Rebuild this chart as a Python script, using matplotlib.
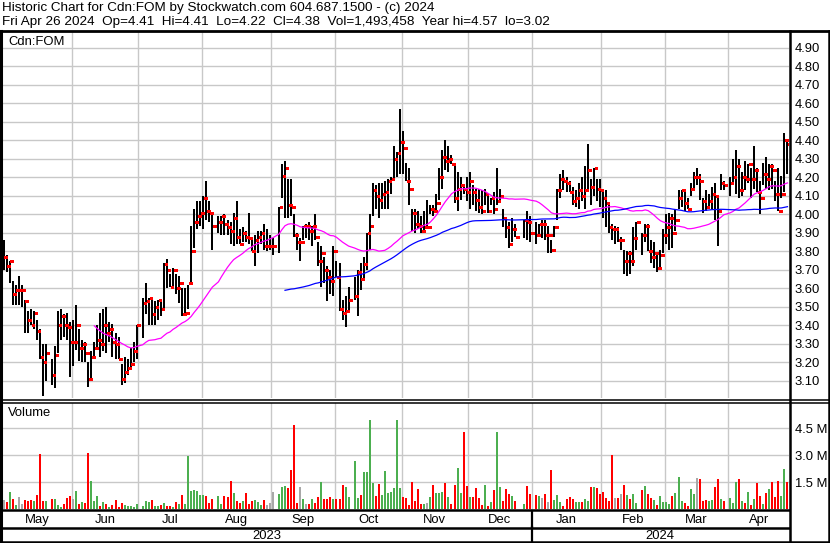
import numpy as np
import pandas as pd
import matplotlib
matplotlib.use("Agg")
import matplotlib.pyplot as plt
from matplotlib.lines import Line2D

plt.rcParams['font.family'] = ['Liberation Sans', 'DejaVu Sans']

# ---------------- data ----------------
start_date, end_date = '2023-05-01', '2024-04-26'
holidays = ['2023-05-22', '2023-07-03', '2023-08-07', '2023-09-04', '2023-10-09',
            '2023-12-25', '2023-12-26', '2024-01-01', '2024-02-19', '2024-03-29']

high = [
    3.86,3.78,3.75,3.64,3.62,3.67,3.62,3.54,3.48,3.49,3.48,3.43,3.38,3.30,3.30,3.22,3.29,3.48,3.49,3.46,3.47,3.42,
    3.43,3.51,3.38,3.32,3.31,3.20,3.26,3.31,3.40,3.47,3.49,3.50,3.42,3.41,3.36,3.34,3.19,3.23,3.22,3.28,3.31,3.40,
    3.55,3.63,3.55,3.55,3.53,3.54,3.54,3.74,3.76,3.68,3.71,3.68,3.67,3.60,3.60,3.62,3.94,4.03,4.07,4.07,
    4.10,4.18,4.07,4.01,3.99,3.99,4.00,3.97,3.96,4.01,4.07,3.92,3.93,3.91,4.01,3.88,3.89,3.91,3.91,3.95,3.92,3.89,
    3.87,4.04,4.27,4.29,4.19,4.19,4.00,3.90,3.87,3.94,3.95,3.96,3.94,4.00,3.85,3.83,3.77,3.72,3.70,3.83,
    3.75,3.74,3.54,3.56,3.61,3.66,3.70,3.74,3.77,3.90,4.00,4.17,4.16,4.17,4.17,4.18,4.19,4.20,4.37,4.34,4.57,
    4.45,4.28,4.25,4.03,4.03,4.02,3.99,4.02,4.08,4.05,4.05,4.11,4.25,4.35,4.40,4.37,4.32,4.26,4.23,4.20,4.15,4.20,
    4.23,4.16,4.14,4.14,4.13,4.14,4.10,4.09,4.12,4.25,4.14,4.03,3.98,3.96,3.98,3.95,3.97,4.02,3.99,
    3.96,3.95,3.97,3.97,3.94,3.86,3.94,4.14,4.22,4.24,4.20,4.18,4.15,4.13,4.17,4.20,4.26,4.38,4.19,4.25,4.19,4.19,
    4.13,4.13,4.05,3.95,3.94,3.93,3.88,3.81,3.80,3.80,3.93,3.96,3.90,3.95,3.95,3.86,3.85,3.79,3.81,3.92,
    4.00,4.01,4.00,4.03,4.13,4.13,4.13,4.09,4.17,4.23,4.25,4.22,4.09,4.13,4.11,4.15,4.17,4.10,4.22,4.18,
    4.20,4.30,4.35,4.30,4.23,4.29,4.27,4.25,4.37,4.25,4.18,4.28,4.31,4.27,4.27,4.18,4.25,4.21,4.44,4.41,
]
low = [
    3.70,3.69,3.63,3.51,3.51,3.51,3.50,3.36,3.36,3.40,3.38,3.32,3.22,3.02,3.10,3.08,3.06,3.25,3.32,3.34,3.32,3.12,
    3.18,3.27,3.21,3.20,3.20,3.07,3.11,3.22,3.27,3.23,3.26,3.25,3.31,3.23,3.22,3.22,3.08,3.09,3.13,3.17,3.20,3.22,
    3.33,3.46,3.40,3.40,3.40,3.43,3.45,3.49,3.60,3.61,3.60,3.57,3.52,3.45,3.45,3.49,3.62,3.82,3.92,3.94,
    3.92,3.97,3.96,3.81,3.90,3.89,3.89,3.89,3.84,3.83,3.84,3.84,3.85,3.85,3.84,3.80,3.72,3.79,3.84,3.81,3.80,3.81,
    3.78,3.79,4.09,3.98,3.98,3.99,3.88,3.81,3.75,3.86,3.87,3.86,3.83,3.86,3.72,3.61,3.63,3.53,3.57,3.56,
    3.66,3.48,3.43,3.39,3.47,3.54,3.45,3.59,3.65,3.70,3.81,3.99,4.03,3.98,4.03,4.03,4.03,4.11,4.18,4.20,4.22,
    4.22,4.18,4.05,3.91,3.90,3.92,3.90,3.91,3.92,4.00,3.99,4.01,4.08,4.14,4.24,4.23,4.27,4.06,4.02,4.08,4.11,4.07,
    4.03,4.05,4.02,4.01,4.00,4.05,4.01,4.05,4.00,4.05,4.07,3.93,3.87,3.82,3.85,3.88,3.87,3.86,3.85,
    3.84,3.88,3.87,3.86,3.79,3.79,3.88,3.97,4.09,4.13,4.12,4.12,4.05,4.04,4.03,4.07,4.03,4.13,4.05,4.10,4.07,4.04,
    3.98,3.93,3.90,3.86,3.84,3.85,3.81,3.68,3.67,3.68,3.72,3.81,3.78,3.85,3.80,3.74,3.71,3.69,3.70,3.79,
    3.84,3.81,3.82,3.91,4.03,4.04,4.02,4.03,4.10,4.13,4.16,4.08,4.01,4.02,4.03,4.03,3.97,3.83,4.13,4.13,
    4.10,4.17,4.11,4.09,4.10,4.13,4.17,4.09,4.14,4.12,4.00,4.16,4.14,4.13,4.14,4.07,4.02,4.09,4.12,4.22,
]
close = [
    3.77,3.72,3.75,3.57,3.59,3.59,3.59,3.53,3.43,3.40,3.47,3.37,3.23,3.20,3.25,3.13,3.24,3.40,3.45,3.40,3.39,3.31,
    3.31,3.40,3.28,3.30,3.25,3.11,3.23,3.28,3.32,3.30,3.40,3.36,3.38,3.31,3.30,3.22,3.11,3.15,3.17,3.19,3.26,3.40,
    3.52,3.53,3.55,3.46,3.50,3.54,3.49,3.73,3.70,3.61,3.70,3.60,3.63,3.46,3.47,3.63,3.80,3.96,3.99,4.01,
    4.09,4.02,4.01,3.94,3.96,3.99,3.95,3.93,3.91,3.98,3.88,3.84,3.90,3.88,3.87,3.80,3.86,3.88,3.90,3.83,3.83,3.83,
    3.83,4.04,4.21,4.25,4.05,4.04,3.89,3.85,3.85,3.94,3.94,3.91,3.94,3.88,3.75,3.79,3.70,3.66,3.64,3.80,
    3.66,3.49,3.47,3.48,3.54,3.56,3.69,3.65,3.73,3.90,3.94,4.13,4.10,4.08,4.11,4.12,4.18,4.19,4.30,4.33,4.39,
    4.36,4.18,4.14,4.01,3.95,3.94,3.91,3.93,3.93,4.03,4.02,4.06,4.20,4.31,4.29,4.30,4.27,4.09,4.14,4.16,4.14,4.12,
    4.18,4.12,4.08,4.04,4.02,4.11,4.02,4.09,4.03,4.07,4.10,3.98,3.93,3.84,3.92,3.88,3.97,3.96,3.90,
    3.89,3.95,3.95,3.89,3.89,3.81,3.93,4.13,4.19,4.18,4.17,4.12,4.07,4.09,4.13,4.10,4.13,4.24,4.15,4.25,4.14,4.13,
    4.09,4.06,3.93,3.92,3.92,3.86,3.86,3.75,3.79,3.75,3.87,3.96,3.89,3.94,3.80,3.77,3.79,3.71,3.78,3.89,
    3.93,3.98,3.90,3.97,4.09,4.13,4.06,4.03,4.14,4.20,4.20,4.18,4.07,4.04,4.07,4.11,4.10,4.02,4.17,4.16,
    4.17,4.20,4.26,4.13,4.20,4.19,4.27,4.19,4.24,4.12,4.09,4.22,4.19,4.26,4.24,4.11,4.02,4.11,4.40,4.38,
]
volume_m = [
    0.50,0.37,0.97,0.56,0.22,0.69,0.28,0.50,0.45,0.50,0.45,0.78,3.07,0.45,0.45,0.56,0.56,0.22,0.13,0.28,0.63,0.72,
    0.56,1.00,0.30,0.41,0.32,3.12,1.56,0.45,0.72,0.17,0.37,0.28,0.09,0.22,0.50,0.13,0.32,0.22,0.17,0.17,0.13,0.28,
    0.17,0.45,0.37,0.50,0.17,0.17,0.22,0.32,0.17,0.17,0.13,0.37,0.28,0.78,0.28,2.92,1.00,1.06,1.00,0.78,
    0.78,0.72,0.32,0.56,0.72,0.28,0.72,0.69,1.58,0.87,0.45,0.32,0.45,0.91,0.28,0.45,0.50,0.41,0.22,0.50,0.22,0.32,
    0.97,0.82,1.25,1.28,1.15,2.17,4.68,0.32,1.25,0.56,0.28,0.28,0.56,0.32,0.69,1.52,0.56,0.56,0.67,0.56,
    0.56,0.56,1.34,1.25,0.69,2.64,0.63,0.78,2.08,2.03,4.96,1.43,0.72,1.38,0.78,2.12,0.87,0.93,1.15,4.96,1.15,
    0.69,0.59,0.22,1.52,0.45,1.12,0.26,0.28,0.32,0.69,1.34,0.91,0.91,0.97,1.47,0.69,0.28,1.34,2.30,0.91,4.26,1.28,
    0.69,0.69,1.19,0.59,0.22,1.34,0.17,0.40,1.06,4.26,1.21,0.46,1.12,0.82,0.74,0.45,0.28,1.28,0.86,
    0.78,0.74,0.59,0.84,0.41,2.17,0.50,0.78,0.41,0.19,0.58,0.69,0.54,0.41,0.37,0.39,0.56,0.45,1.25,1.21,1.15,0.84,
    0.97,0.63,0.46,3.01,0.63,0.63,0.82,1.34,0.78,0.58,0.84,0.32,1.08,1.28,0.82,0.63,0.50,0.22,0.72,0.41,
    0.40,0.30,0.72,0.91,1.77,0.46,0.32,0.19,1.12,0.84,1.75,1.67,0.46,0.50,0.45,0.50,1.25,1.67,0.58,0.46,
    0.63,0.35,1.51,1.64,0.46,0.35,0.97,0.22,0.56,1.45,0.72,0.28,0.91,1.10,1.51,0.69,1.54,0.72,2.23,1.49,
]
month_labels = ['May', 'Jun', 'Jul', 'Aug', 'Sep', 'Oct', 'Nov', 'Dec', 'Jan', 'Feb', 'Mar', 'Apr']
year_labels = ['2023', '2024']
price_ticks = [3.10, 3.20, 3.30, 3.40, 3.50, 3.60, 3.70, 3.80, 3.90, 4.00,
               4.10, 4.20, 4.30, 4.40, 4.50, 4.60, 4.70, 4.80, 4.90]
vol_ticks = [1.5, 3.0, 4.5]
vol_tick_labels = ['1.5 M', '3.0 M', '4.5 M']
ma_short, ma_long = 30, 90
title1 = "Historic Chart for Cdn:FOM by Stockwatch.com 604.687.1500 - (c) 2024"
title2 = "Fri Apr 26 2024  Op=4.41  Hi=4.41  Lo=4.22  Cl=4.38  Vol=1,493,458  Year hi=4.57  lo=3.02"

# ---------------- derived ----------------
weekdays = pd.bdate_range(start_date, end_date)
is_trade = ~weekdays.isin(pd.to_datetime(holidays))
slots = np.arange(len(weekdays))
x = slots[is_trade]
n = len(x)
assert len(high) == n and len(low) == n and len(close) == n and len(volume_m) == n, \
    (n, len(high), len(low), len(close), len(volume_m))
close_s = pd.Series(close)
ma1 = close_s.rolling(ma_short).mean()
ma2 = close_s.rolling(ma_long).mean()
chg = close_s.diff().fillna(0).values
vcolors = np.where(chg > 0.0001, '#4caf50', np.where(chg < -0.0001, '#ff0000', '#a8a8a8'))

month_start = [0] + [i for i in range(1, len(weekdays)) if weekdays[i].month != weekdays[i - 1].month]
edges = [s - 0.5 for s in month_start] + [len(weekdays) - 0.5]
year_start = [0] + [i for i in range(1, len(weekdays)) if weekdays[i].year != weekdays[i - 1].year]
yedges = [s - 0.5 for s in year_start] + [len(weekdays) - 0.5]

# ---------------- figure ----------------
W, H = 830, 543
fig = plt.figure(figsize=(W / 100, H / 100), dpi=100)
fig.patch.set_facecolor('white')

def fx(p):
    return p / W

def fy(p):
    return 1 - p / H

def axes_px(x0, y0, x1, y1):
    return fig.add_axes([fx(x0), fy(y1), fx(x1) - fx(x0), fy(y0) - fy(y1)])

XL = (-0.5, len(weekdays) - 0.5)
GRID = '#c8c8c8'
FS = 9.4
FST = 9.7

ax = axes_px(2, 32, 789, 398)
axv = axes_px(2, 403, 789, 509)
axm = axes_px(2, 511, 789, 527)
axy = axes_px(2, 529, 789, 541)

for a in (ax, axv, axm, axy):
    a.set_xlim(*XL)
    for s in a.spines.values():
        s.set_visible(False)
    a.set_facecolor('white')

# price panel
ax.set_ylim(3.008, 4.986)
ax.set_axisbelow(True)
ax.set_yticks(price_ticks)
ax.set_yticklabels(['%.2f' % t for t in price_ticks])
ax.yaxis.tick_right()
ax.tick_params(axis='y', length=0, pad=4, labelsize=FS)
ax.set_xticks(edges[1:-1])
ax.tick_params(axis='x', length=0, labelbottom=False)
ax.grid(True, color=GRID, lw=1.0)
ax.vlines(x, low, high, color='black', lw=1.2, zorder=3, antialiased=False)
ax.hlines(close, x + 0.25, x + 1.15, color='#ff0000', lw=1.9, zorder=4, antialiased=False)
ax.plot(x, ma1, color='#ff00ff', lw=0.9, zorder=5)
ax.plot(x, ma2, color='#0000ff', lw=0.9, zorder=5)

# volume panel
axv.set_ylim(0, 5.89)
axv.set_axisbelow(True)
axv.set_yticks(vol_ticks)
axv.set_yticklabels(vol_tick_labels)
axv.yaxis.tick_right()
axv.tick_params(axis='y', length=0, pad=4, labelsize=FS)
axv.set_xticks(edges[1:-1])
axv.tick_params(axis='x', length=0, labelbottom=False)
axv.grid(True, color=GRID, lw=1.0)
axv.bar(x, volume_m, width=0.66, color=vcolors, zorder=3, antialiased=False)

# month row
axm.set_ylim(0, 1)
axm.set_xticks([])
axm.set_yticks([])
for i, lab in enumerate(month_labels):
    axm.text((edges[i] + edges[i + 1]) / 2, 0.45, lab, ha='center', va='center', fontsize=FS)

# year row
axy.set_ylim(0, 1)
axy.set_xticks([])
axy.set_yticks([])
for i, lab in enumerate(year_labels):
    axy.text((yedges[i] + yedges[i + 1]) / 2, 0.45, lab, ha='center', va='center', fontsize=FS)
for e in yedges[1:-1]:
    axm.axvline(e, color='black', lw=1.6, clip_on=False)
    axy.axvline(e, color='black', lw=1.6, clip_on=False)
    axm.plot([e, e], [0, -0.25], color='black', lw=1.6, clip_on=False)

# titles and labels
fig.text(fx(2), fy(8.5), title1, ha='left', va='center', fontsize=FST)
fig.text(fx(2), fy(22.5), title2, ha='left', va='center', fontsize=FST)
fig.text(fx(8), fy(42), 'Cdn:FOM', ha='left', va='center', fontsize=FS)
fig.text(fx(8), fy(413), 'Volume', ha='left', va='center', fontsize=FS)

# frame lines
def hline_px(y, x0, x1, lw):
    fig.add_artist(Line2D([fx(x0), fx(x1)], [fy(y), fy(y)], color='black', lw=lw))

def vline_px(xp, y0, y1, lw):
    fig.add_artist(Line2D([fx(xp), fx(xp)], [fy(y0), fy(y1)], color='black', lw=lw))

hline_px(31, 0, 830, 2.0)
hline_px(400, 0, 830, 1.1)
hline_px(402.8, 0, 830, 1.1)
hline_px(510, 0, 789, 1.8)
hline_px(527.5, 0, 789, 1.8)
hline_px(541.5, 0, 830, 1.8)
vline_px(1, 31, 543, 2.2)
vline_px(789.5, 31, 543, 1.8)
vline_px(828.5, 31, 543, 1.8)

fig.savefig('out.png', dpi=100, facecolor='white')
